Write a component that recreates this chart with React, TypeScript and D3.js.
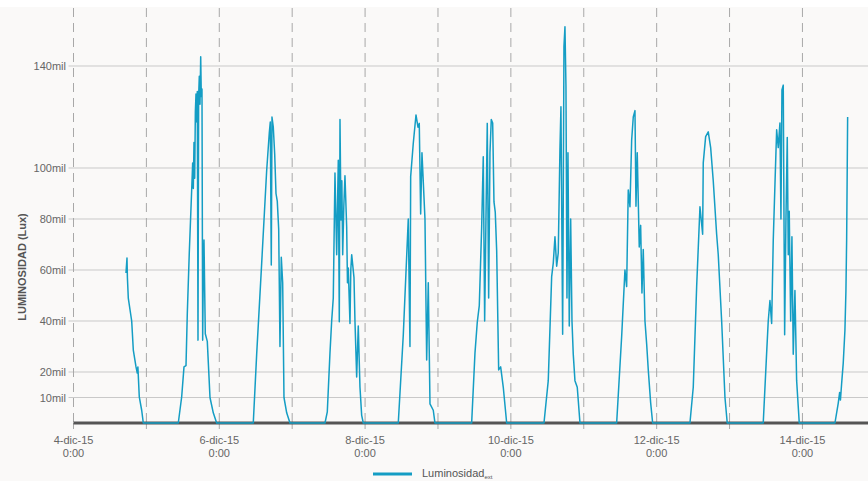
import React, { useEffect, useRef } from 'react';
import * as d3 from 'd3';

// luminosity readings, [hour of day, thousands of lux], one list per day (Dec 2015)
const day4 = [[17.28, 58.8], [17.61, 64.7], [17.75, 57], [18.04, 49], [19.16, 40], [19.69, 28.6], [20.58, 22], [21.0, 19.6], [21.2, 22], [21.66, 10.2], [22.45, 5], [22.98, 0]];
const day5 = [[10.5, 0], [11.62, 10.3], [12.38, 22], [13.04, 22.5], [13.47, 43], [14.12, 66.7], [14.91, 91.4], [15.24, 102], [15.45, 92], [15.67, 110], [15.9, 96], [16.12, 122], [16.33, 129], [16.55, 118], [16.76, 130], [16.99, 32.5], [17.2, 128], [17.42, 136], [17.65, 125], [17.88, 143.6], [18.08, 128], [18.3, 131], [18.53, 32.5], [18.75, 60], [18.96, 71.8], [19.39, 35], [20.05, 32], [20.94, 10], [22.02, 4], [23.14, 0]];
const day6 = [[11.19, 0], [12.31, 27], [13.96, 62.7], [15.6, 99], [16.46, 113.7], [16.79, 118], [17.12, 62], [17.35, 120], [17.78, 116], [18.24, 105.5], [18.67, 90], [19.09, 87], [19.56, 76], [19.98, 30], [20.41, 65], [20.87, 55], [21.3, 10], [22.19, 4], [23.28, 0]];
const day7 = [[10.8, 0], [11.56, 4.4], [12.44, 27.4], [13.0, 40], [13.53, 49], [14.09, 98], [14.65, 66], [15.18, 103], [15.51, 39.7], [15.74, 119], [16.07, 79.6], [16.35, 95], [16.63, 66], [17.0, 85], [17.38, 97], [17.94, 77], [18.2, 55], [18.47, 60.8], [19.03, 39], [19.3, 60], [19.59, 66], [20.35, 57], [20.67, 40], [21.23, 18], [21.76, 38], [22.32, 14], [22.88, 3], [23.41, 0]];
const day8 = [[10.93, 0], [12.58, 34.5], [14.22, 80], [14.78, 30], [15.01, 96.6], [15.87, 109.7], [16.76, 120.8], [17.42, 116], [17.84, 117.5], [18.3, 82], [18.73, 106], [19.72, 80], [20.28, 24.7], [20.81, 55], [21.37, 7.5], [22.45, 5], [23.01, 0]];
const day9 = [[11.09, 0], [12.18, 27.4], [12.94, 39.5], [13.6, 46], [14.39, 77], [14.91, 104.4], [15.37, 40], [15.8, 80], [16.23, 117.5], [16.69, 49], [17.12, 106], [17.55, 119], [18.01, 117.6], [18.44, 86.7], [18.86, 82.7], [19.33, 67.5], [19.98, 20.8], [20.64, 22], [21.5, 14], [22.62, 0]];
const day10 = [[10.9, 0], [12.31, 16.6], [13.43, 57.4], [13.96, 62.7], [14.52, 73], [15.08, 61.5], [15.6, 66.7], [16.16, 107.5], [16.49, 124], [17.05, 34.8], [17.48, 147.6], [17.81, 155.4], [18.14, 132], [18.47, 49], [18.8, 106], [19.23, 38], [19.69, 80], [20.12, 40], [20.54, 27], [21.1, 16.6], [21.86, 14], [22.75, 0]];
const day11 = [[10.83, 0], [12.48, 34], [13.56, 60], [14.12, 53.5], [14.65, 91.4], [15.21, 84.8], [15.77, 111], [16.3, 120], [16.86, 122.5], [17.19, 85], [17.61, 106], [18.27, 69], [18.73, 77.5], [19.16, 51], [19.59, 68], [20.15, 40], [20.71, 31], [21.23, 21], [22.02, 8], [22.68, 0]];
const day12 = [[10.96, 0], [12.05, 14], [13.17, 53.5], [14.26, 84.8], [15.14, 74], [15.34, 102], [16.13, 112.3], [16.99, 114.2], [17.78, 108], [18.63, 95], [19.75, 74], [20.28, 66], [21.4, 40], [22.49, 10], [23.24, 0]];
const day13 = [[11.09, 0], [12.21, 27.4], [12.74, 40], [13.3, 48], [13.86, 39], [14.39, 71.8], [14.95, 93.6], [15.51, 115], [16.03, 108], [16.59, 117.6], [16.92, 80], [17.25, 130.6], [17.68, 132.5], [18.14, 34.6], [18.57, 80], [19.0, 112], [19.33, 66], [19.65, 83], [20.12, 40], [20.54, 73], [20.97, 27], [21.53, 52], [22.09, 16.6], [22.95, 0]];
const day14 = [[10.7, 0], [11.79, 7.8], [12.25, 12], [12.51, 9], [12.91, 15.6], [13.43, 23.5], [13.99, 36.5], [14.32, 52], [14.55, 71.8], [14.75, 100.5], [14.88, 120]];

const days: [number, number[][]][] = [[4, day4], [5, day5], [6, day6], [7, day7], [8, day8], [9, day9], [10, day10], [11, day11], [12, day12], [13, day13], [14, day14]];

const yTicks = [10, 20, 40, 60, 80, 100, 140];
const labelDays = [4, 6, 8, 10, 12, 14];
const seriesName = 'Luminosidad';

const App = () => {
  const svgRef = useRef<SVGSVGElement>(null);

  useEffect(() => {
    const width = 868;
    const height = 481;
    const margin = { top: 8, left: 73.5, bottom: 423 };

    const svg = d3.select(svgRef.current)
      .attr('width', width)
      .attr('height', height);
    svg.selectAll('*').remove();

    svg.append('rect').attr('width', width).attr('height', height).attr('fill', '#faf9f8');
    svg.append('rect').attr('width', width).attr('height', 7).attr('fill', '#ffffff');

    const data = days.flatMap(([d, pts]) =>
      pts.map(([h, v]) => ({ t: new Date(new Date(2015, 11, d).getTime() + h * 3600e3), v })));

    const x = d3.scaleTime()
      .domain([new Date(2015, 11, 4), new Date(2015, 11, 14, 21, 35)])
      .range([margin.left, width]);
    const y = d3.scaleLinear().domain([0, 140]).range([margin.bottom, 66]);

    // horizontal grid
    svg.append('g').selectAll('line').data(yTicks).enter().append('line')
      .attr('x1', margin.left - 5).attr('x2', width)
      .attr('y1', d => y(d)).attr('y2', d => y(d))
      .attr('stroke', '#c9c9c9').attr('stroke-width', 1);

    svg.append('g').selectAll('text').data(yTicks).enter().append('text')
      .attr('x', 66).attr('y', d => y(d) + 4)
      .attr('text-anchor', 'end')
      .attr('font-family', 'Liberation Sans, Arial, sans-serif')
      .attr('font-size', 11).attr('fill', '#666')
      .text(d => `${d}mil`);

    // daily dashed lines
    const dayTicks = d3.timeDay.range(new Date(2015, 11, 4), new Date(2015, 11, 15));
    svg.append('g').selectAll('line').data(dayTicks).enter().append('line')
      .attr('x1', d => x(d)).attr('x2', d => x(d))
      .attr('y1', margin.top).attr('y2', margin.bottom)
      .attr('stroke', '#a8a8a8').attr('stroke-width', 1)
      .attr('stroke-dasharray', '9,6');
    svg.append('g').selectAll('line').data(dayTicks).enter().append('line')
      .attr('x1', d => x(d)).attr('x2', d => x(d))
      .attr('y1', margin.bottom).attr('y2', margin.bottom + 6)
      .attr('stroke', '#aaa').attr('stroke-width', 1);

    // x axis base
    svg.append('line')
      .attr('x1', margin.left).attr('x2', width)
      .attr('y1', margin.bottom).attr('y2', margin.bottom)
      .attr('stroke', '#555').attr('stroke-width', 3);

    const xl = svg.append('g').selectAll('text').data(labelDays).enter().append('text')
      .attr('text-anchor', 'middle')
      .attr('font-family', 'Liberation Sans, Arial, sans-serif')
      .attr('font-size', 11).attr('fill', '#666');
    xl.append('tspan')
      .attr('x', d => x(new Date(2015, 11, d))).attr('y', 444)
      .text(d => `${d}-dic-15`);
    xl.append('tspan')
      .attr('x', d => x(new Date(2015, 11, d))).attr('y', 457)
      .text('0:00');

    const line = d3.line<{ t: Date; v: number }>()
      .x(d => x(d.t))
      .y(d => y(d.v));

    svg.append('path')
      .datum(data)
      .attr('d', line)
      .attr('fill', 'none')
      .attr('stroke', '#149dc4')
      .attr('stroke-width', 1.5)
      .attr('stroke-linejoin', 'round');

    // y title
    svg.append('text')
      .attr('transform', 'translate(26, 267) rotate(-90)')
      .attr('text-anchor', 'middle')
      .attr('font-family', 'Liberation Sans, Arial, sans-serif')
      .attr('font-size', 11).attr('font-weight', 'bold').attr('fill', '#555')
      .text('LUMINOSIDAD (Lux)');

    // legend
    svg.append('line')
      .attr('x1', 373).attr('x2', 412).attr('y1', 474).attr('y2', 474)
      .attr('stroke', '#149dc4').attr('stroke-width', 3);
    const lt = svg.append('text')
      .attr('x', 422).attr('y', 477)
      .attr('font-family', 'Liberation Sans, Arial, sans-serif')
      .attr('font-size', 11).attr('fill', '#555');
    lt.append('tspan').text(seriesName);
    lt.append('tspan').attr('dy', 2).attr('font-size', 6).text('ext');
  }, []);

  return <svg ref={svgRef} style={{ position: 'absolute', left: 0, top: 0 }}></svg>;
};

export default App;
